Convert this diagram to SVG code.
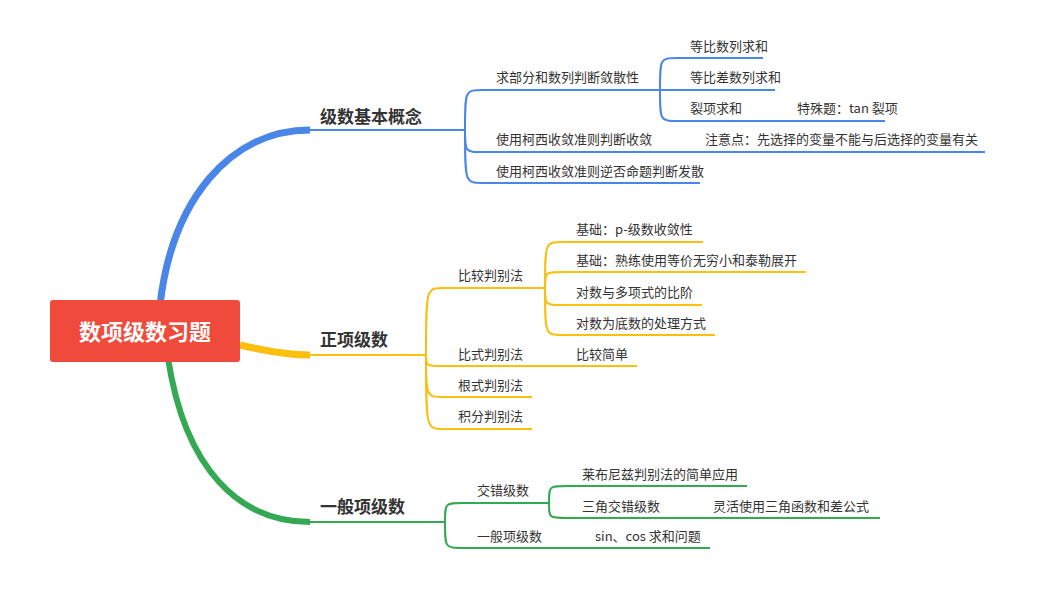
<svg xmlns="http://www.w3.org/2000/svg" width="1037" height="592" viewBox="0 0 1037 592">
<style>
text{font-family:"Noto Sans CJK SC","Liberation Sans",sans-serif;font-size:13px;fill:#333}
.h{font-size:17px;font-weight:bold}
.b{fill:none;stroke:#4a86e8;stroke-width:2}
.o{fill:none;stroke:#fbbf0e;stroke-width:2}
.g{fill:none;stroke:#34a853;stroke-width:2}
</style>
<rect width="1037" height="592" fill="#fff"/>
<g id="connectors">
<path d="M160,305 C172,200 230,130 310,130" fill="none" stroke="#4a86e8" stroke-width="7"/>
<path d="M240,345 C270,352 290,355 310,355" fill="none" stroke="#fbbf0e" stroke-width="7"/>
<path d="M168,358 C185,470 240,522 310,522" fill="none" stroke="#34a853" stroke-width="6"/>
<path class="b" d="M310,130 H465 M465,130 C465,90 465,90 483,90 H660 M465,130 C465,152 465,152 483,152 H985 M465,130 C465,183 465,183 483,183 H700 M660,90 C660,58 660,58 678,58 H763 M660,90 H775 M660,90 C660,121 660,121 678,121 H885"/>
<path class="o" d="M310,355 H426 M426,355 C426,288 426,288 444,288 H545 M426,355 C426,366 426,366 444,366 H637 M426,355 C426,397 426,397 444,397 H532 M426,355 C426,429 426,429 444,429 H532 M545,288 C545,242 545,242 563,242 H703 M545,288 C545,272 545,272 563,272 H806 M545,288 C545,305 545,305 563,305 H702 M545,288 C545,335 545,335 563,335 H715"/>
<path class="g" d="M310,522 H445 M445,522 C445,503 445,503 463,503 H549 M445,522 C445,548 445,548 463,548 H710 M549,503 C549,486 549,486 567,486 H747 M549,503 C549,518 549,518 567,518 H880"/>
</g>
<g id="root"><rect x="50" y="300" width="190" height="62" rx="3" fill="#f04a3c"/><text x="145" y="340" text-anchor="middle" style="font-size:22px;font-weight:bold;fill:#fff">数项级数习题</text></g>
<g id="n1"><text class="h" x="320" y="123">级数基本概念</text></g>
<g id="n2"><text class="h" x="320" y="346">正项级数</text></g>
<g id="n3"><text class="h" x="320" y="513">一般项级数</text></g>
<g id="b1"><text x="496" y="82">求部分和数列判断敛散性</text></g>
<g id="b2"><text x="496" y="144">使用柯西收敛准则判断收敛</text></g>
<g id="b3"><text x="496" y="176">使用柯西收敛准则逆否命题判断发散</text></g>
<g id="b4"><text x="690" y="51">等比数列求和</text></g>
<g id="b5"><text x="690" y="82">等比差数列求和</text></g>
<g id="b6"><text x="690" y="113">裂项求和</text></g>
<g id="b7"><text x="797" y="113">特殊题：tan 裂项</text></g>
<g id="b8"><text x="705" y="144">注意点：先选择的变量不能与后选择的变量有关</text></g>
<g id="o1"><text x="458" y="280">比较判别法</text></g>
<g id="o2"><text x="458" y="359">比式判别法</text></g>
<g id="o3"><text x="458" y="390">根式判别法</text></g>
<g id="o4"><text x="458" y="421">积分判别法</text></g>
<g id="o5"><text x="576" y="234">基础：p-级数收敛性</text></g>
<g id="o6"><text x="576" y="265">基础：熟练使用等价无穷小和泰勒展开</text></g>
<g id="o7"><text x="576" y="297">对数与多项式的比阶</text></g>
<g id="o8"><text x="576" y="328">对数为底数的处理方式</text></g>
<g id="o9"><text x="576" y="359">比较简单</text></g>
<g id="g1"><text x="477" y="495">交错级数</text></g>
<g id="g2"><text x="477" y="541">一般项级数</text></g>
<g id="g3"><text x="582" y="479">莱布尼兹判别法的简单应用</text></g>
<g id="g4"><text x="582" y="511">三角交错级数</text></g>
<g id="g5"><text x="713" y="511">灵活使用三角函数和差公式</text></g>
<g id="g6"><text x="595" y="541">sin、cos 求和问题</text></g>
</svg>
